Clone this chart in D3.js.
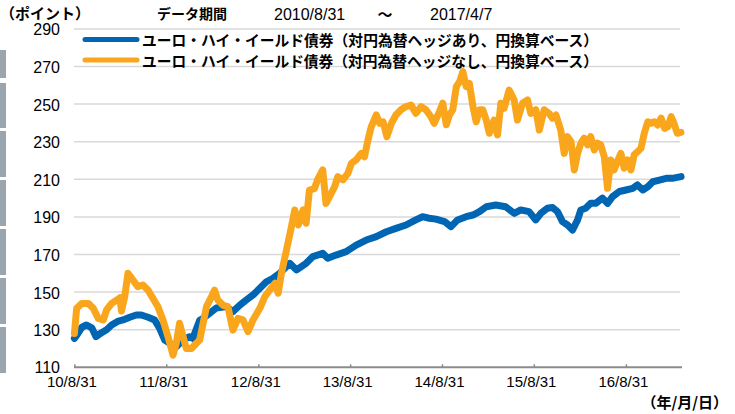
<!DOCTYPE html>
<html>
<head>
<meta charset="utf-8">
<style>
    body { margin: 0; background: #fff; }
    svg { display: block; }
    text { font-family: "Liberation Sans", Arial, sans-serif; fill: #000; }
    .jp { font-family: "Noto Sans CJK JP", sans-serif; font-weight: bold; }
</style>
</head>
<body>
<script src="https://d3js.org/d3.v7.min.js"></script>
<div id="chart"></div>
<script>
    // period shown
    const startDay = "2010-08-31", endDay = "2017-04-07";

    // x tick dates and y ticks
    const tickDays = ["2010-08-31", "2011-08-31", "2012-08-31", "2013-08-31", "2014-08-31", "2015-08-31", "2016-08-31"];
    const yTicks = [110, 130, 150, 170, 190, 210, 230, 250, 270, 290];

    const seriesNames = [
        "ユーロ・ハイ・イールド債券（対円為替ヘッジあり、円換算ベース）",
        "ユーロ・ハイ・イールド債券（対円為替ヘッジなし、円換算ベース）"
    ];

    // hedged (blue)
    const hedgedDates = ["2010-08-31","2010-09-09","2010-09-30","2010-10-18","2010-11-08","2010-11-25","2010-12-17",
        "2011-01-06","2011-01-26","2011-02-22","2011-03-12","2011-04-08","2011-05-04","2011-05-24","2011-06-20","2011-07-16",
        "2011-08-05","2011-08-25","2011-09-14","2011-10-10","2011-11-06","2011-12-02","2011-12-15",
        "2012-01-11","2012-01-24","2012-03-17","2012-04-26","2012-05-22","2012-06-18","2012-07-14","2012-08-10","2012-09-06",
        "2012-10-02","2012-10-28","2012-11-24","2013-01-03","2013-01-30","2013-03-09","2013-04-05","2013-05-14","2013-06-03",
        "2013-07-06","2013-08-15","2013-09-24","2013-11-03","2013-12-13","2014-01-22","2014-03-01","2014-04-10","2014-05-19",
        "2014-06-15","2014-07-11","2014-08-07","2014-09-10","2014-10-06","2014-11-01","2014-12-05","2015-01-01","2015-01-27",
        "2015-02-23","2015-04-02","2015-05-11","2015-06-14","2015-07-10","2015-08-12","2015-09-08","2015-09-28","2015-10-24",
        "2015-11-13","2015-12-03","2015-12-23","2016-01-12","2016-02-01","2016-02-21","2016-03-05","2016-03-24","2016-04-13",
        "2016-05-03","2016-05-30","2016-06-19","2016-07-09","2016-08-05","2016-08-31","2016-09-27","2016-10-16","2016-11-06",
        "2016-11-26","2016-12-16","2017-01-11","2017-02-07","2017-03-03","2017-04-07"];
    const hedgedValues = [125.4,127,131.3,132.5,131,126.3,128.4,
        130,132.5,134.6,135.2,136.6,137.8,137.8,136.6,135.2,
        130.7,124.5,122.8,121,124.5,126.3,125.4,
        135,136,141.5,142.3,139.6,143,145.8,148.5,152,
        155.5,157.3,160,165.3,161.8,165.3,168.9,170.6,168,
        169.7,171.5,175,177.7,179.5,182.1,183.9,185.7,188.4,
        190.1,189.3,188.8,187.5,184.8,188.4,190.1,191,192.8,
        195.4,196.3,195.4,191.9,193.7,192.8,188.4,191.9,194.6,
        195,192.8,187.5,185.7,183,188.4,193.7,194.6,197.2,
        197.2,200,197.2,200.8,203.5,204.3,205.2,207,204.3,
        206,208.7,209.6,210.5,210.5,211.4];

    // unhedged (orange)
    const unhedgedDates = ["2010-08-31","2010-09-09","2010-09-30","2010-10-25","2010-11-14","2010-12-04","2010-12-24",
        "2011-01-06","2011-01-26","2011-02-16","2011-02-28","2011-03-06","2011-03-19","2011-04-01","2011-04-21","2011-05-10",
        "2011-05-30","2011-06-20","2011-07-09","2011-07-29","2011-08-18","2011-09-07","2011-09-27","2011-10-10","2011-10-23",
        "2011-11-06","2011-11-19","2011-12-09","2011-12-29","2012-01-11","2012-02-07","2012-02-27","2012-03-10","2012-03-23",
        "2012-04-13","2012-05-02","2012-05-22","2012-06-11","2012-07-01","2012-07-21","2012-08-10","2012-09-06","2012-09-26",
        "2012-10-15","2012-11-05","2012-11-18","2012-12-01","2012-12-21","2013-01-10","2013-01-23","2013-02-06","2013-02-25",
        "2013-03-09","2013-03-22","2013-04-11","2013-04-24","2013-05-14","2013-05-27","2013-06-10","2013-06-30","2013-07-13",
        "2013-08-02","2013-08-22","2013-09-05","2013-09-24","2013-10-14","2013-10-27","2013-11-10","2013-11-23","2013-12-13",
        "2013-12-26","2014-01-09","2014-01-24","2014-02-11","2014-03-01","2014-03-21","2014-04-10","2014-04-30","2014-05-19",
        "2014-06-09","2014-06-28","2014-07-18","2014-07-31","2014-08-21","2014-09-03","2014-09-17","2014-09-30","2014-10-13",
        "2014-10-27","2014-11-09","2014-11-22","2014-12-05","2014-12-18","2015-01-01","2015-01-14","2015-01-27","2015-02-09",
        "2015-02-23","2015-03-07","2015-03-26","2015-04-09","2015-04-22","2015-05-05","2015-05-25","2015-06-14","2015-06-27",
        "2015-07-17","2015-08-06","2015-08-19","2015-09-08","2015-09-22","2015-10-11","2015-10-31","2015-11-13","2015-11-27",
        "2015-12-16","2015-12-30","2016-01-12","2016-01-26","2016-02-08","2016-02-21","2016-03-05","2016-03-18","2016-04-01",
        "2016-04-13","2016-04-27","2016-05-10","2016-05-23","2016-06-06","2016-06-19","2016-07-02","2016-07-15","2016-07-28",
        "2016-08-11","2016-08-24","2016-09-07","2016-09-20","2016-10-03","2016-10-16","2016-10-30","2016-11-12","2016-11-26",
        "2016-12-09","2016-12-22","2017-01-04","2017-01-18","2017-02-01","2017-02-14","2017-02-27","2017-03-10","2017-03-23",
        "2017-04-07"];
    const unhedgedValues = [128,141.4,144,144,141.4,136,135.2,
        140.5,144,145.8,147,140,147.6,160,156.4,152.9,
        153.8,151,146.7,142.2,135.2,126.3,116.5,122.8,133.4,
        126.3,120,120,122.8,124.5,142.3,147.6,151,145.8,
        143,142.3,129.8,136,135.2,129,135.2,141.4,147.6,
        151,154.7,149.4,160,172.4,185,193.7,185.7,193.7,
        186.6,204.3,205,210,215,197.2,200.8,206,211.4,
        209.7,213.2,218.5,220.3,223.8,222,231,238,244.2,
        239.8,240.6,232.7,239.8,244.2,247,248.7,249.5,245.1,
        248.7,247,243.3,239.8,246,250.5,239,244.2,247,
        259.3,262,267.3,259.3,261,248.7,240.6,247,247,
        241.5,234.5,241.5,233.6,250.5,247.8,257.5,252.2,241.5,
        250.5,252.2,245,247,236.2,247,245,242.5,244.2,
        236.2,223.8,232.7,230,215,223.8,229.2,231.9,228.3,
        232.7,225.6,229.2,228.3,222,205.2,220.3,215,219.4,
        223.8,215.9,220.3,215,223,224.7,226.5,234.5,240.6,
        239.8,240.6,238.9,242.5,237.1,238,243.3,239.8,234.5,
        235];

    const colors = ["#0066b3", "#f9a61c"];

    const W = 735, H = 414;
    const parse = d3.timeParse("%Y-%m-%d");

    const svg = d3.select("#chart").append("svg")
        .attr("width", W)
        .attr("height", H);

    // grey strip on the left edge
    const strips = [[50, 78], [83, 128], [131, 177], [180, 226], [229, 275], [278, 324], [327, 373]];
    svg.selectAll(".strip").data(strips).enter().append("rect")
        .attr("x", 0).attr("width", 6)
        .attr("y", d => d[0]).attr("height", d => d[1] - d[0])
        .attr("fill", "#9ba5ae");

    const x = d3.scaleTime()
        .domain([parse(startDay), parse(endDay)])
        .range([74.4, 681]);
    const y = d3.scaleLinear()
        .domain([110, 290])
        .range([367.3, 28.9]);

    // gridlines
    svg.append("g").selectAll("line")
        .data(yTicks.slice(1))
        .enter().append("line")
        .attr("x1", 74).attr("x2", 680)
        .attr("y1", d => y(d)).attr("y2", d => y(d))
        .attr("stroke", "#d9d9d9")
        .attr("stroke-width", 1.5);

    // y labels
    svg.append("g").selectAll("text")
        .data(yTicks)
        .enter().append("text")
        .attr("x", 60)
        .attr("y", d => y(d) + (d === 110 ? 0 : 1))
        .attr("text-anchor", "end")
        .attr("dominant-baseline", "central")
        .style("font-size", "16px")
        .text(d => d);

    // x axis
    const xAxis = svg.append("g")
        .attr("transform", "translate(0," + y(110) + ")")
        .call(d3.axisBottom(x)
            .tickValues(tickDays.map(parse))
            .tickSize(0)
            .tickPadding(9)
            .tickFormat(d3.timeFormat("%y/%-m/%d")));
    xAxis.select(".domain").remove();
    xAxis.selectAll("text")
        .attr("dx", -3)
        .style("font-size", "15px")
        .style("font-family", "'Liberation Sans', Arial, sans-serif")
        .attr("fill", "#000");
    xAxis.append("line")
        .attr("x1", 74).attr("x2", 682)
        .attr("stroke", "#8c8c8c").attr("stroke-width", 2);
    xAxis.selectAll(".tick").append("line")
        .attr("y1", -3).attr("y2", 0)
        .attr("stroke", "#8c8c8c").attr("stroke-width", 1.5);

    // lines
    const line = d3.line()
        .x(d => x(d[0]))
        .y(d => y(d[1]));

    const series = [
        d3.zip(hedgedDates.map(parse), hedgedValues),
        d3.zip(unhedgedDates.map(parse), unhedgedValues)
    ];

    svg.append("g").selectAll("path")
        .data(series)
        .enter().append("path")
        .attr("d", line)
        .attr("fill", "none")
        .attr("stroke", (d, i) => colors[i])
        .attr("stroke-width", 7)
        .attr("stroke-linejoin", "round")
        .attr("stroke-linecap", "round");

    // legend
    const legend = svg.append("g");
    seriesNames.forEach(function(name, i) {
        const ly = 39.5 + i * 20.5;
        legend.append("line")
            .attr("x1", 85).attr("x2", 137)
            .attr("y1", ly).attr("y2", ly)
            .attr("stroke", colors[i])
            .attr("stroke-width", 5)
            .attr("stroke-linecap", "round");
        legend.append("text")
            .attr("class", "jp")
            .attr("x", 142)
            .attr("y", ly)
            .attr("dominant-baseline", "central")
            .attr("textLength", 456)
            .attr("lengthAdjust", "spacingAndGlyphs")
            .style("font-size", "15px")
            .text(name);
    });

    // header texts
    svg.append("text").attr("class", "jp")
        .attr("x", 0).attr("y", 12)
        .attr("dominant-baseline", "central")
        .style("font-size", "15px")
        .text("（ポイント）");
    svg.append("text").attr("class", "jp")
        .attr("x", 157).attr("y", 13)
        .attr("dominant-baseline", "central")
        .style("font-size", "14px")
        .text("データ期間");
    svg.append("text")
        .attr("x", 274).attr("y", 14)
        .attr("dominant-baseline", "central")
        .style("font-size", "16px")
        .text("2010/8/31");
    svg.append("text").attr("class", "jp")
        .attr("x", 385).attr("y", 13)
        .attr("text-anchor", "middle")
        .attr("dominant-baseline", "central")
        .style("font-size", "15px")
        .text("～");
    svg.append("text")
        .attr("x", 430).attr("y", 14)
        .attr("dominant-baseline", "central")
        .style("font-size", "16px")
        .text("2017/4/7");

    svg.append("text").attr("class", "jp")
        .attr("x", 728).attr("y", 401)
        .attr("text-anchor", "end")
        .attr("dominant-baseline", "central")
        .style("font-size", "15px")
        .text("（年/月/日）");
</script>
</body>
</html>
